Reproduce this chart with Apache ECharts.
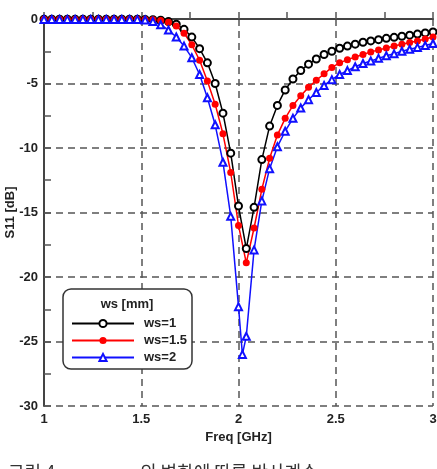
<!DOCTYPE html>
<html>
<head>
<meta charset="utf-8">
<script src="https://cdn.jsdelivr.net/npm/echarts@6/dist/echarts.min.js"></script>
<style>
  html, body { margin: 0; padding: 0; background: #fff; }
  #chart { width: 437px; height: 469px; }
</style>
</head>
<body>
<div id="chart"></div>
<script>
// frequency points [GHz]
const freq = [
  1.00, 1.04, 1.08, 1.12, 1.16, 1.20, 1.24, 1.28, 1.32, 1.36, 1.40, 1.44, 1.48, 1.52, 1.56,
  1.60, 1.64, 1.68, 1.72, 1.76, 1.80, 1.84, 1.88, 1.92, 1.96, 2.00,
  2.04, 2.08, 2.12, 2.16, 2.20, 2.24, 2.28, 2.32, 2.36, 2.40, 2.44, 2.48, 2.52,
  2.56, 2.60, 2.64, 2.68, 2.72, 2.76, 2.80, 2.84, 2.88, 2.92, 2.96, 3.00
];
// ws=2 has one extra sample near its resonance
const freqWs2 = [
  1.00, 1.04, 1.08, 1.12, 1.16, 1.20, 1.24, 1.28, 1.32, 1.36, 1.40, 1.44, 1.48, 1.52, 1.56,
  1.60, 1.64, 1.68, 1.72, 1.76, 1.80, 1.84, 1.88, 1.92, 1.96, 2.00, 2.02,
  2.04, 2.08, 2.12, 2.16, 2.20, 2.24, 2.28, 2.32, 2.36, 2.40, 2.44, 2.48, 2.52,
  2.56, 2.60, 2.64, 2.68, 2.72, 2.76, 2.80, 2.84, 2.88, 2.92, 2.96, 3.00
];

// S11 [dB]
const s11Ws1 = [
  -0.01, -0.01, -0.01, -0.01, -0.01, -0.01, -0.01, -0.01, -0.01, -0.01, -0.02, -0.02, -0.02, -0.03, -0.05,
  -0.1, -0.2, -0.4, -0.8, -1.4, -2.3, -3.4, -5.0, -7.3, -10.4, -14.5,
  -17.8, -14.6, -10.9, -8.3, -6.7, -5.5, -4.65, -4.0, -3.5, -3.1, -2.75, -2.5, -2.27,
  -2.1, -1.95, -1.8, -1.7, -1.6, -1.5, -1.42, -1.34, -1.25, -1.17, -1.08, -1.0
];
const s11Ws15 = [
  -0.02, -0.02, -0.02, -0.02, -0.02, -0.02, -0.02, -0.02, -0.02, -0.02, -0.02, -0.02, -0.02, -0.03, -0.05,
  -0.12, -0.25, -0.55, -1.1, -2.0, -3.2, -4.8, -6.6, -8.9, -11.9, -16.0,
  -18.9, -16.2, -13.2, -10.8, -9.0, -7.7, -6.7, -5.95, -5.3, -4.75, -4.25, -3.75, -3.4,
  -3.15, -2.95, -2.75, -2.55, -2.4, -2.25, -2.1, -1.95, -1.82, -1.7, -1.55, -1.4
];
const s11Ws2 = [
  -0.03, -0.03, -0.03, -0.03, -0.03, -0.03, -0.03, -0.03, -0.03, -0.03, -0.03, -0.03, -0.03, -0.08, -0.2,
  -0.45, -0.85, -1.4, -2.1, -3.0, -4.3, -6.1, -8.2, -11.1, -15.3, -22.3, -26.0,
  -24.6, -17.9, -14.1, -11.6, -9.9, -8.7, -7.7, -6.9, -6.25, -5.7, -5.15, -4.7, -4.3,
  -4.0, -3.7, -3.45, -3.25, -3.05, -2.85, -2.7, -2.5, -2.35, -2.2, -2.05, -1.9
];

const seriesNames = ['ws=1', 'ws=1.5', 'ws=2'];
const legendTitle = 'ws [mm]';

const toPairs = (xs, ys) => xs.map((x, i) => [x, ys[i]]);

const font = 'Liberation Sans, Arial, sans-serif';
const chart = echarts.init(document.getElementById('chart'));

const axisCommon = {
  axisLine: { show: true, lineStyle: { color: '#444', width: 2 } },
  axisTick: { show: true, inside: true, length: 7, lineStyle: { color: '#555', width: 1.5 } },
  minorTick: { show: true, splitNumber: 2, length: 7, lineStyle: { color: '#555', width: 1.5 } },
  splitLine: { show: true, lineStyle: { color: '#555', width: 1.5, type: [7, 5] } },
  axisLabel: { color: '#222', fontFamily: font, fontWeight: 'bold', fontSize: 13 },
  nameTextStyle: { color: '#222', fontFamily: font, fontWeight: 'bold', fontSize: 13 }
};

chart.setOption({
  animation: false,
  grid: { left: 44, right: 4, top: 19, bottom: 63, outerBoundsMode: 'none', containLabel: false },
  xAxis: Object.assign({}, axisCommon, {
    type: 'value', min: 1, max: 3, interval: 0.5,
    name: 'Freq [GHz]', nameLocation: 'middle', nameGap: 24,
    axisLabel: Object.assign({}, axisCommon.axisLabel, { margin: 7 })
  }),
  yAxis: Object.assign({}, axisCommon, {
    type: 'value', min: -30, max: 0, interval: 5,
    name: 'S11 [dB]', nameLocation: 'middle', nameGap: 27, nameRotate: 90, nameMoveOverlap: false,
    axisLabel: Object.assign({}, axisCommon.axisLabel, { margin: 6 })
  }),
  graphic: [
    {
      type: 'rect', z: 50,
      shape: { x: 63, y: 289, width: 129, height: 80, r: 8 },
      style: { fill: '#fff', stroke: '#333', lineWidth: 1.5 }
    },
    {
      type: 'text', z: 51, x: 127, y: 304,
      style: { text: legendTitle, fill: '#222', font: 'bold 13px ' + font, align: 'center', verticalAlign: 'middle' }
    },
    {
      type: 'text', z: 51, x: 8, y: 472,
      style: { text: '그림 4.', fill: '#333', font: '18px "Noto Sans CJK KR"', verticalAlign: 'middle' }
    },
    {
      type: 'text', z: 51, x: 140, y: 472,
      style: { text: '의 변화에 따른 반사계수', fill: '#333', font: '18px "Noto Sans CJK KR"', verticalAlign: 'middle' }
    }
  ],
  legend: {
    z: 60,
    orient: 'vertical', left: 66, top: 312,
    itemWidth: 62, itemHeight: 9, itemGap: 4,
    textStyle: { color: '#222', fontFamily: font, fontWeight: 'bold', fontSize: 13, padding: [0, 0, 0, 5] },
    data: seriesNames
  },
  series: [
    {
      name: seriesNames[0], type: 'line', data: toPairs(freq, s11Ws1),
      symbol: 'emptyCircle', symbolSize: 7,
      lineStyle: { color: '#000', width: 1.5 },
      itemStyle: { color: '#000', borderColor: '#000', borderWidth: 1.2 }
    },
    {
      name: seriesNames[1], type: 'line', data: toPairs(freq, s11Ws15),
      symbol: 'circle', symbolSize: 7,
      lineStyle: { color: '#ff0000', width: 1.5 },
      itemStyle: { color: '#ff0000' }
    },
    {
      name: seriesNames[2], type: 'line', data: toPairs(freqWs2, s11Ws2),
      symbol: 'emptyTriangle', symbolSize: 7,
      lineStyle: { color: '#1010ff', width: 1.5 },
      itemStyle: { color: '#1010ff', borderColor: '#1010ff', borderWidth: 1.2 }
    }
  ]
});
</script>
</body>
</html>
